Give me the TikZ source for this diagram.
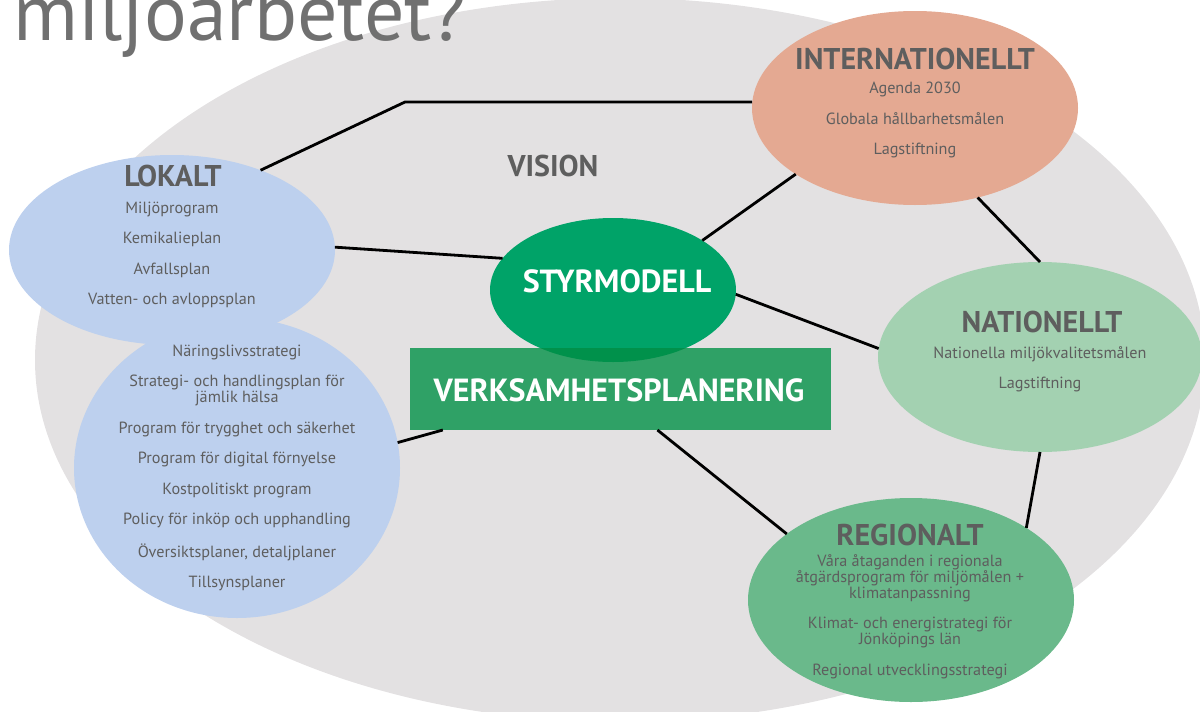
\documentclass[tikz,border=0pt]{standalone}
\usepackage{fontspec}
\setmainfont{PT Sans}
\usetikzlibrary{shapes.geometric}
\definecolor{bggrey}{HTML}{E3E1E2}
\definecolor{lokalblue}{HTML}{BDD0EE}
\definecolor{intlsalmon}{HTML}{E4A992}
\definecolor{natgreen}{HTML}{A3D1B1}
\definecolor{reggreen}{HTML}{6AB98B}
\definecolor{styrgreen}{HTML}{00A368}
\definecolor{verkgreen}{HTML}{2FA166}
\definecolor{overlapgreen}{HTML}{00914B}
\definecolor{textgrey}{HTML}{5E5E5E}
\definecolor{titlegrey}{HTML}{707070}
\newcommand\itemgap{\\[14.5pt]}
\begin{document}
\begin{tikzpicture}[x=1pt,y=-1pt,
  blob/.style={ellipse, draw=none, inner sep=0pt, outer sep=0pt},
  head/.style={font=\bfseries\fontsize{30}{30}\selectfont, text=textgrey, inner sep=0pt},
  whitehead/.style={font=\bfseries\fontsize{32}{32}\selectfont, text=white, inner sep=0pt},
  body/.style={font=\fontsize{16.2}{16}\selectfont, text=textgrey, align=center, inner sep=0pt},
  conn/.style={draw=black, line width=2.8pt}]
\useasboundingbox (0,0) rectangle (1200,712);
\clip (0,0) rectangle (1200,712);
\fill[bggrey] (620,360) ellipse [x radius=585, y radius=362];
\node[anchor=base west, inner sep=0pt, text=titlegrey, font=\fontsize{80}{80}\selectfont] (title) at (13,40) {miljöarbetet?};
% ellipses
\node[blob, fill=lokalblue, minimum width=326pt, minimum height=190pt] (lokalt) at (172,250) {};
\node[blob, fill=lokalblue, minimum width=326pt, minimum height=300pt] (kommun) at (237,468) {};
\node[blob, fill=intlsalmon, minimum width=326pt, minimum height=194pt] (intl) at (915,108) {};
\node[blob, fill=natgreen, minimum width=324pt, minimum height=190pt] (nat) at (1040,357) {};
\node[blob, fill=reggreen, minimum width=326pt, minimum height=204pt] (reg) at (911,600) {};
\node[blob, fill=styrgreen, minimum width=246pt, minimum height=144pt] (styr) at (613,290) {};
\node[rectangle, fill=verkgreen, minimum width=421pt, minimum height=82pt, inner sep=0pt, outer sep=0pt] (verk) at (620.5,389) {};
\begin{scope}
  \clip (613,290) ellipse [x radius=123, y radius=72];
  \fill[overlapgreen] (verk.south west) rectangle (verk.north east);
\end{scope}
% connectors
\coordinate (corner) at (405,102);
\draw[conn] (lokalt.42) -- (corner) -- (corner -| intl.west);
\draw[conn] (lokalt.1) -- (styr.164);
\draw[conn] (styr.29) -- (intl.209);
\draw[conn] (intl.305) -- (nat.90);
\draw[conn] (styr.-2) -- (nat.177);
\draw[conn] (nat.-90) -- (reg.32);
\draw[conn] (verk.312) -- (reg.152);
\draw[conn] (kommun.9) -- (verk.193);
% texts
\node[head] (vision) at (553,166) {VISION};
\node[head] (lokalt-h) at (173,176) {LOKALT};
\node[body] (lokalt-b) at (172,255) {Miljöprogram\itemgap Kemikalieplan\itemgap Avfallsplan\itemgap Vatten- och avloppsplan};
\node[body] (kommun-b) at (237,468) {Näringslivsstrategi\itemgap Strategi- och handlingsplan för\\jämlik hälsa\itemgap Program för trygghet och säkerhet\itemgap Program för digital förnyelse\itemgap Kostpolitiskt program\itemgap Policy för inköp och upphandling\itemgap Översiktsplaner, detaljplaner\itemgap Tillsynsplaner};
\node[head] (intl-h) at (915,59) {INTERNATIONELLT};
\node[body] (intl-b) at (915,120) {Agenda 2030\itemgap Globala hållbarhetsmålen\itemgap Lagstiftning};
\node[head] (nat-h) at (1042,322) {NATIONELLT};
\node[body] (nat-b) at (1040,369.5) {Nationella miljökvalitetsmålen\itemgap Lagstiftning};
\node[head] (reg-h) at (910,535) {REGIONALT};
\node[body] (reg-b) at (910,616.5) {Våra åtaganden i regionala\\åtgärdsprogram för miljömålen +\\klimatanpassning\itemgap Klimat- och energistrategi för\\Jönköpings län\itemgap Regional utvecklingsstrategi};
\node[whitehead] (styr-t) at (617,281) {STYRMODELL};
\node[whitehead] (verk-t) at (619,390) {VERKSAMHETSPLANERING};
\end{tikzpicture}
\end{document}
